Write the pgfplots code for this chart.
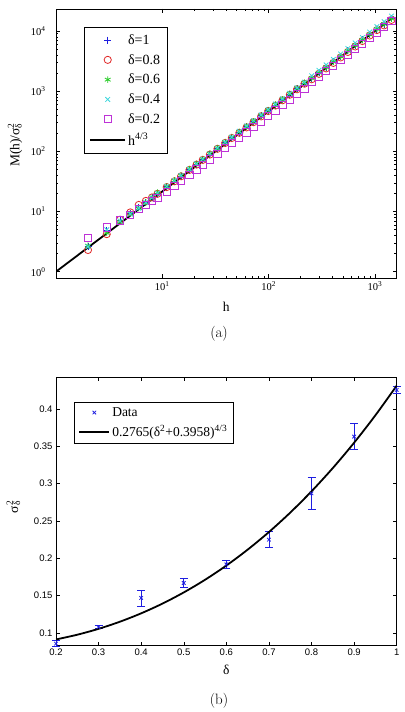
\documentclass[border=0pt]{standalone}
\usepackage{pgfplots}
\usepackage{pgfplotstable}
\pgfplotsset{compat=1.18}
\usepackage{fontspec}
\newfontfamily\tms{Liberation Serif}
\newfontfamily\hlv{Liberation Sans}

\definecolor{cBlue}{RGB}{30,30,225}
\definecolor{cRed}{RGB}{225,40,40}
\definecolor{cGreen}{RGB}{40,205,40}
\definecolor{cCyan}{RGB}{60,215,220}
\definecolor{cMag}{RGB}{190,50,215}

% structure function M(h)/sigma^2 for several delta
\pgfplotstableread{
h     d10    d08    d06    d04    d02
2     2.60   2.29   2.70   2.60   3.60
3     4.85   4.20   4.41   4.98   5.41
4     7.11   7.30   6.73   6.99   7.11
5     9.41   9.66   9.23   9.06   8.72
6     11.77  12.86  11.45  11.34  10.90
7     14.33  15.00  14.19  14.06  12.99
8     16.96  17.12  17.28  16.96  14.88
9     19.66  19.66  20.59  20.03  16.85
11    25.68  25.44  26.17  26.17  21.04
13    32.10  31.79  32.71  32.71  26.29
15    38.84  38.47  39.58  39.58  31.81
18    49.55  49.08  50.49  50.49  40.58
21    60.85  60.27  62.01  62.01  49.84
24    72.69  72.00  74.08  74.08  59.54
28    89.29  88.44  90.99  90.99  73.13
33    111.1  110.0  113.2  113.2  90.99
39    138.9  137.6  141.6  141.6  113.8
45    168.1  166.5  171.3  171.3  137.7
53    207.1  203.1  209.1  215.0  167.2
62    255.1  250.2  257.6  264.9  206.1
72    311.5  305.5  314.5  323.5  251.6
85    388.6  381.2  392.4  403.6  313.9
99    476.4  467.3  481.0  494.7  384.8
116   588.3  577.0  594.0  611.0  475.2
135   720.2  706.4  727.1  747.9  581.7
158   888.3  871.2  896.8  922.4  717.4
185   1096   1075   1107   1138   885.4
217   1356   1330   1369   1408   1095
254   1640   1576   1640   1801   1415
297   2022   1942   2022   2220   1744
347   2488   2390   2488   2732   2146
406   3067   2947   3067   3368   2646
475   3780   3632   3780   4151   3261
556   4664   4482   4664   5122   4024
651   5754   5528   5754   6318   4964
761   7087   6809   7087   7782   6114
891   8747   8404   8747   9604   7546
1042  10775  10353  10775  11832  9296
1219  13020  12369  13020  14322  11718
1427  16070  15267  16070  17677  14463
}\mtab

% sigma^2 versus delta with error bars
\pgfplotstableread{
d    s       e
0.2  0.0857  0.0040
0.3  0.1080  0.0020
0.4  0.1470  0.0107
0.5  0.1670  0.0056
0.6  0.1920  0.0050
0.7  0.2250  0.0110
0.8  0.2870  0.0216
0.9  0.3630  0.0174
1.0  0.4256  0.0050
}\sigtab

% fitted curve 0.2765(delta^2+0.3958)^(4/3), tabulated
\pgfplotstableread{
d     f
0.20  0.09136
0.25  0.09771
0.30  0.10560
0.35  0.11512
0.40  0.12635
0.45  0.13939
0.50  0.15435
0.55  0.17130
0.60  0.19035
0.65  0.21164
0.70  0.23522
0.75  0.26124
0.80  0.28978
0.85  0.32095
0.90  0.35487
0.95  0.39162
1.00  0.43131
}\fittab

\begin{document}
\begin{tikzpicture}
% page frame
\path (0pt,0pt) rectangle (404pt,712pt);

% ---------------- panel (a)
\begin{axis}[
  at={(56pt,433.7pt)}, anchor=south west,
  scale only axis, width=340.7pt, height=269.3pt,
  xmode=log, ymode=log,
  xmin=1, xmax=1600, ymin=0.776, ymax=23200,
  axis line style={line width=0.8pt},
  tick style={black, line width=0.5pt},
  major tick length=4pt, minor tick length=2.5pt,
  xtick={10,100,1000},
  xticklabels={10\textsuperscript{1},10\textsuperscript{2},10\textsuperscript{3}},
  ytick={1,10,100,1000,10000},
  yticklabels={10\textsuperscript{0},10\textsuperscript{1},10\textsuperscript{2},10\textsuperscript{3},10\textsuperscript{4}},
  tick label style={font=\tms\fontsize{10.5}{12}\selectfont},
  yticklabel style={xshift=-7pt},
  every axis x label/.style={at={(axis description cs:0.5,-0.105)}, anchor=center},
  every axis y label/.style={at={(axis description cs:-0.120,0.495)}, rotate=90, anchor=center},
  label style={font=\tms\fontsize{13.5}{15}\selectfont},
  xlabel={h},
  ylabel={M(h)/σ\rlap{\textsuperscript{2}}\textsubscript{δ}},
  legend style={at={(axis description cs:0.082,0.933)}, anchor=north west,
    draw=black, line width=0.8pt, font=\tms\fontsize{14}{16}\selectfont,
    cells={anchor=west}, row sep=4.5pt, inner xsep=5pt, inner ysep=5pt},
  legend image code/.code={\draw[mark repeat=2,mark phase=2,#1]
    plot coordinates {(0pt,0pt) (17.5pt,0pt) (35pt,0pt)};},
]
\addplot[only marks, mark=+, color=cBlue, mark size=3.5pt, mark options={line width=0.8pt}]
  table[x=h, y=d10] {\mtab};
\addlegendentry{δ=1}
\addplot[only marks, mark=o, color=cRed, mark size=3.6pt, mark options={line width=0.8pt}]
  table[x=h, y=d08] {\mtab};
\addlegendentry{δ=0.8}
\addplot[only marks, mark=asterisk, color=cGreen, mark size=3.3pt, mark options={line width=0.8pt}]
  table[x=h, y=d06] {\mtab};
\addlegendentry{δ=0.6}
\addplot[only marks, mark=x, color=cCyan, mark size=3.3pt, mark options={line width=0.8pt}]
  table[x=h, y=d04] {\mtab};
\addlegendentry{δ=0.4}
\addplot[only marks, mark=square, color=cMag, mark size=3.6pt, mark options={line width=1pt}]
  table[x=h, y=d02] {\mtab};
\addlegendentry{δ=0.2}
\addplot[black, line width=1.8pt] coordinates {(1,1) (1500,17171)};
\addlegendentry{h\textsuperscript{4/3}}
\end{axis}

% ---------------- panel (b)
\begin{axis}[
  at={(56pt,66.3pt)}, anchor=south west,
  scale only axis, width=340.7pt, height=268.4pt,
  xmin=0.2, xmax=1, ymin=0.083, ymax=0.4425,
  clip=false,
  axis line style={line width=0.8pt},
  tick style={black, line width=0.5pt},
  major tick length=4pt,
  xtick={0.2,0.3,0.4,0.5,0.6,0.7,0.8,0.9,1},
  ytick={0.1,0.15,0.2,0.25,0.3,0.35,0.4},
  /pgf/number format/assume math mode=true,
  /pgf/number format/fixed,
  tick label style={font=\hlv\fontsize{9.5}{11}\selectfont},
  every axis x label/.style={at={(axis description cs:0.5,-0.0905)}, anchor=center},
  every axis y label/.style={at={(axis description cs:-0.125,0.517)}, rotate=90, anchor=center},
  label style={font=\tms\fontsize{13.5}{15}\selectfont},
  xlabel={δ},
  ylabel={σ\rlap{\textsuperscript{2}}\textsubscript{δ}},
  legend style={at={(axis description cs:0.053,0.908)}, anchor=north west,
    draw=black, line width=0.8pt, font=\tms\fontsize{13.5}{15}\selectfont,
    cells={anchor=west}, row sep=3.5pt, inner xsep=4pt, inner ysep=3pt},
  legend image code/.code={\draw[mark repeat=2,mark phase=2,#1]
    plot coordinates {(0pt,0pt) (15pt,0pt) (30pt,0pt)};},
]
\addplot[only marks, mark=x, color=cBlue, mark size=2.5pt, mark options={line width=0.8pt},
  error bars/y dir=both, error bars/y explicit,
  error bars/error mark=-,
  error bars/error bar style={draw=cBlue, line width=0.8pt},
  error bars/error mark options={draw=cBlue, line width=0.8pt, mark size=4pt, rotate=90}]
  table[x=d, y=s, y error=e] {\sigtab};
\addlegendentry{Data}
\addplot[black, line width=1.8pt, smooth] table[x=d, y=f] {\fittab};
\addlegendentry{0.2765(δ\textsuperscript{2}+0.3958)\textsuperscript{4/3}}
\end{axis}

% panel captions
\node[font=\fontsize{15}{18}\selectfont] at (219pt,378pt) {(a)};
\node[font=\fontsize{15}{18}\selectfont] at (219pt,11pt) {(b)};
\end{tikzpicture}
\end{document}
